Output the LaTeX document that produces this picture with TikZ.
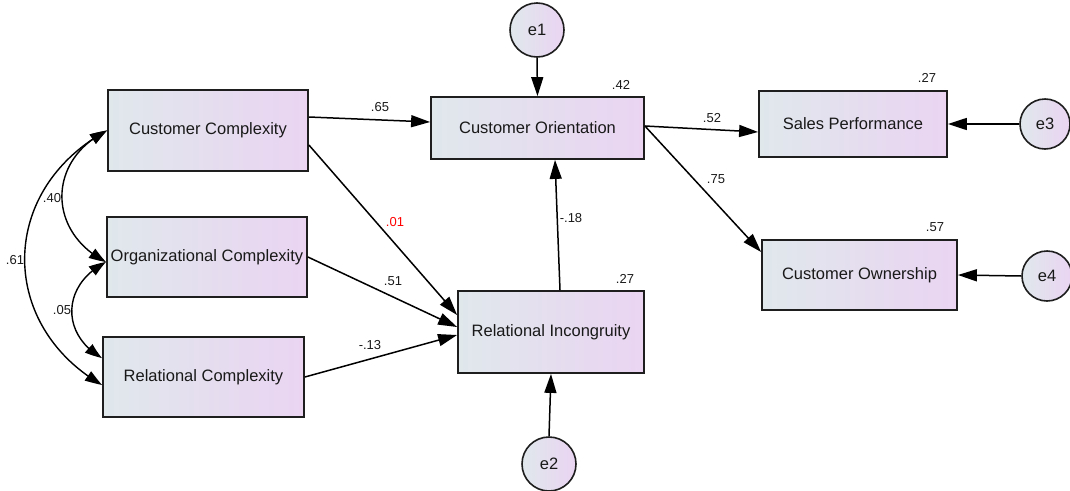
\documentclass[tikz,border=0pt]{standalone}
\usepackage{fontspec}
\setmainfont{Liberation Sans}
\usetikzlibrary{arrows.meta,bending,calc}
\definecolor{lgray}{HTML}{E0E8EC}
\definecolor{lpurp}{HTML}{EAD4F2}
\definecolor{edge}{HTML}{1E1E1E}
\begin{document}
\begin{tikzpicture}[x=1pt,y=-1pt,
  var/.style={draw=edge,line width=1.8pt,left color=lgray,right color=lpurp,inner sep=0pt,
    font=\fontsize{16.5}{20}\selectfont,text=black!90},
  err/.style={circle,draw=edge,line width=1.6pt,left color=lgray,right color=lpurp,inner sep=0pt,
    font=\fontsize{16.5}{20}\selectfont,text=black!90},
  path/.style={line width=1.5pt,draw=black,-{Triangle[length=19pt,width=12pt]}},
  cov/.style={line width=1.4pt,draw=black,{Triangle[length=17pt,width=11pt,bend]}-{Triangle[length=17pt,width=11pt,bend]}},
  lab/.style={font=\fontsize{13}{15}\selectfont,text=black!90,inner sep=0pt}]
\useasboundingbox (0,0) rectangle (1070,490);
% observed variables
\node[var,minimum width=200pt,minimum height=81pt] (CC) at (208,130.5) {Customer Complexity};
\node[var,minimum width=200pt,minimum height=80pt] (OC) at (207,257) {Organizational Complexity};
\node[var,minimum width=201pt,minimum height=80pt] (RC) at (203.5,377) {Relational Complexity};
\node[var,minimum width=213pt,minimum height=62pt] (CO) at (537.5,128) {Customer Orientation};
\node[var,minimum width=186pt,minimum height=82pt] (RI) at (551,332) {Relational Incongruity};
\node[var,minimum width=188pt,minimum height=66pt] (SP) at (853,124) {Sales Performance};
\node[var,minimum width=195pt,minimum height=70pt] (CW) at (859.5,275) {Customer Ownership};
% errors
\node[err,minimum size=54pt] (e1) at (537,30) {e1};
\node[err,minimum size=54pt] (e2) at (549,464) {e2};
\node[err,minimum size=50pt] (e3) at (1045,124) {e3};
\node[err,minimum size=50pt] (e4) at (1047,276) {e4};
% paths
\draw[path] ([yshift=13.5pt]CC.east) -- ([yshift=6pt]CO.west);
\draw[path] ([yshift=-14.5pt]CC.east) -- ([yshift=17pt]RI.west);
\draw[path] (OC.east) -- ([yshift=5pt]RI.west);
\draw[path] (RC.east) -- ([yshift=-3pt]RI.west);
\draw[path] ([xshift=9pt]RI.north) -- ([xshift=17.5pt]CO.south);
\draw[path] ([yshift=2pt]CO.east) -- ([yshift=-8pt]SP.west);
\draw[path] ([yshift=2pt]CO.east) -- ([yshift=23pt]CW.west);
\draw[path] (e1.south) -- (CO.north);
\draw[path] (e2.north) -- (RI.south);
\draw[path] (e3.west) -- (SP.east);
\draw[path] (e4.west) -- (CW.east);
% covariances
\draw[cov] (CC.west) .. controls (47,160) and (47,232) .. ([yshift=-5pt]OC.west);
\draw[cov] ([yshift=-5pt]OC.west) .. controls (61,285) and (61,335) .. ([yshift=19pt]RC.west);
\draw[cov] (CC.west) .. controls (-2,190) and (-2,325) .. ([yshift=-8pt]RC.west);
% labels
\node[lab] (l65) at (380,107) {.65};
\node[lab,text=red] (l01) at (395,222) {.01};
\node[lab] (l51) at (393,281) {.51};
\node[lab] (l13) at (370,345) {-.13};
\node[lab] (l18) at (571,218) {-.18};
\node[lab] (l52) at (712,118) {.52};
\node[lab] (l75) at (716,179) {.75};
\node[lab] (r42) at (621,85) {.42};
\node[lab] (r27a) at (625,279) {.27};
\node[lab] (r27b) at (927,78) {.27};
\node[lab] (r57) at (935,227) {.57};
\node[lab] (c40) at (52,198) {.40};
\node[lab] (c05) at (62,310) {.05};
\node[lab] (c61) at (15,260) {.61};
\end{tikzpicture}
\end{document}
